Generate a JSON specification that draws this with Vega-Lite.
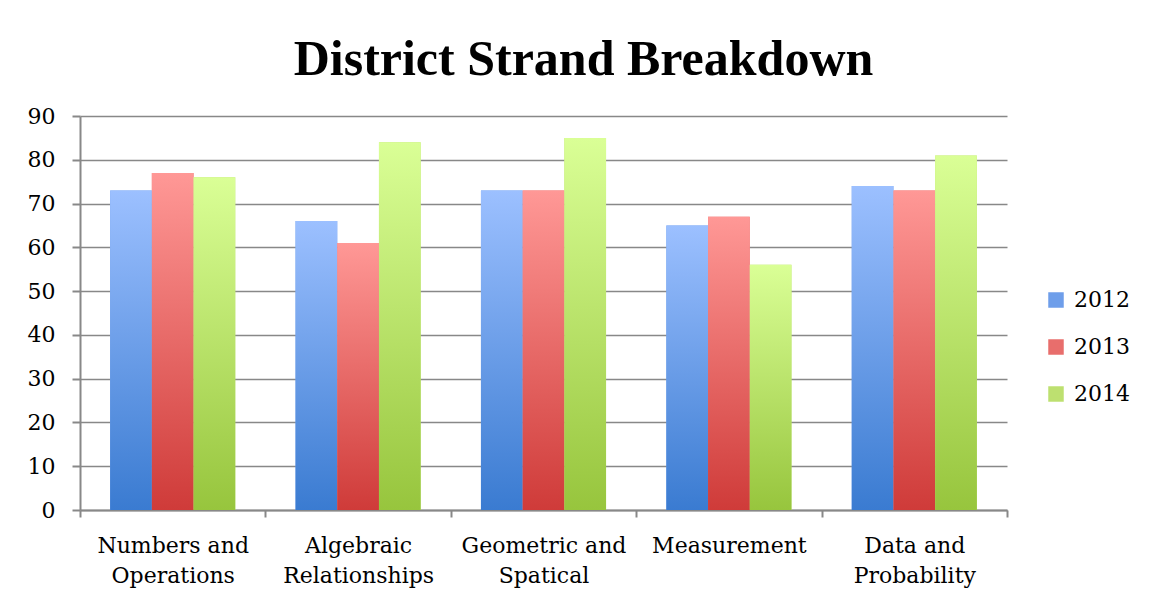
{
  "$schema": "https://vega.github.io/schema/vega-lite/v6.json",
  "width": 927,
  "height": 394,
  "padding": {"left": 27, "top": 35, "right": 5, "bottom": 5},
  "background": "white",
  "title": {
    "text": "District Strand Breakdown",
    "font": "Liberation Serif",
    "fontSize": 50,
    "fontWeight": "bold",
    "color": "#000000",
    "anchor": "middle",
    "frame": "bounds",
    "offset": 20,
    "dx": 5
  },
  "data": {
    "values": [
      {"strand": "Numbers and Operations", "year": "2012", "score": 73},
      {"strand": "Numbers and Operations", "year": "2013", "score": 77},
      {"strand": "Numbers and Operations", "year": "2014", "score": 76},
      {"strand": "Algebraic Relationships", "year": "2012", "score": 66},
      {"strand": "Algebraic Relationships", "year": "2013", "score": 61},
      {"strand": "Algebraic Relationships", "year": "2014", "score": 84},
      {"strand": "Geometric and Spatical", "year": "2012", "score": 73},
      {"strand": "Geometric and Spatical", "year": "2013", "score": 73},
      {"strand": "Geometric and Spatical", "year": "2014", "score": 85},
      {"strand": "Measurement", "year": "2012", "score": 65},
      {"strand": "Measurement", "year": "2013", "score": 67},
      {"strand": "Measurement", "year": "2014", "score": 56},
      {"strand": "Data and Probability", "year": "2012", "score": 74},
      {"strand": "Data and Probability", "year": "2013", "score": 73},
      {"strand": "Data and Probability", "year": "2014", "score": 81}
    ]
  },
  "encoding": {
    "x": {
      "field": "strand",
      "type": "nominal",
      "sort": null,
      "scale": {"paddingInner": 0, "paddingOuter": 0},
      "axis": {
        "title": null,
        "labelAngle": 0,
        "tickBand": "extent",
        "tickSize": 7,
        "labelPadding": 18,
        "labelLineHeight": 30,
        "labelBaseline": "top",
        "labelExpr": "datum.value === 'Numbers and Operations' ? ['Numbers and', 'Operations'] : datum.value === 'Algebraic Relationships' ? ['Algebraic', 'Relationships'] : datum.value === 'Geometric and Spatical' ? ['Geometric and', 'Spatical'] : datum.value === 'Data and Probability' ? ['Data and', 'Probability'] : datum.value"
      }
    },
    "xOffset": {
      "field": "year",
      "type": "nominal",
      "scale": {"domain": ["2012", "2013", "2014"], "paddingInner": 0, "paddingOuter": 0.723}
    },
    "y": {
      "field": "score",
      "type": "quantitative",
      "scale": {"domain": [0, 90], "nice": false},
      "axis": {
        "title": null,
        "values": [0, 10, 20, 30, 40, 50, 60, 70, 80, 90],
        "tickSize": 8,
        "labelPadding": 17,
        "grid": true
      }
    }
  },
  "layer": [
    {
      "mark": {"type": "bar"},
      "encoding": {
        "color": {
          "field": "year",
          "type": "nominal",
          "scale": {"domain": ["2012", "2013", "2014"], "range": ["#6E9EEA", "#E86E6C", "#BDE070"]},
          "legend": {
            "title": null,
            "orient": "none",
            "legendX": 965,
            "legendY": 173,
            "symbolType": "square",
            "symbolSize": 240,
            "symbolStrokeWidth": 0,
            "labelFont": "DejaVu Serif",
            "labelFontSize": 22,
            "labelColor": "#000000",
            "labelOffset": 7,
            "rowPadding": 25
          }
        }
      }
    },
    {
      "transform": [{"filter": "datum.year === '2012'"}],
      "mark": {
        "type": "bar",
        "fill": {"gradient": "linear", "x1": 0, "y1": 0, "x2": 0, "y2": 1,
          "stops": [{"offset": 0, "color": "#9CC0FF"}, {"offset": 1, "color": "#3A7BD1"}]}
      },
      "encoding": {}
    },
    {
      "transform": [{"filter": "datum.year === '2013'"}],
      "mark": {
        "type": "bar",
        "fill": {"gradient": "linear", "x1": 0, "y1": 0, "x2": 0, "y2": 1,
          "stops": [{"offset": 0, "color": "#FF9896"}, {"offset": 1, "color": "#CF3B39"}]}
      },
      "encoding": {}
    },
    {
      "transform": [{"filter": "datum.year === '2014'"}],
      "mark": {
        "type": "bar",
        "fill": {"gradient": "linear", "x1": 0, "y1": 0, "x2": 0, "y2": 1,
          "stops": [{"offset": 0, "color": "#DAFF96"}, {"offset": 1, "color": "#97C53D"}]}
      },
      "encoding": {}
    }
  ],
  "config": {
    "view": {"stroke": null},
    "axis": {
      "labelFont": "DejaVu Serif",
      "labelFontSize": 22,
      "labelColor": "#000000",
      "domainColor": "#888888",
      "domainWidth": 2,
      "tickColor": "#888888",
      "tickWidth": 2,
      "gridColor": "#888888",
      "gridWidth": 1.5
    }
  }
}
